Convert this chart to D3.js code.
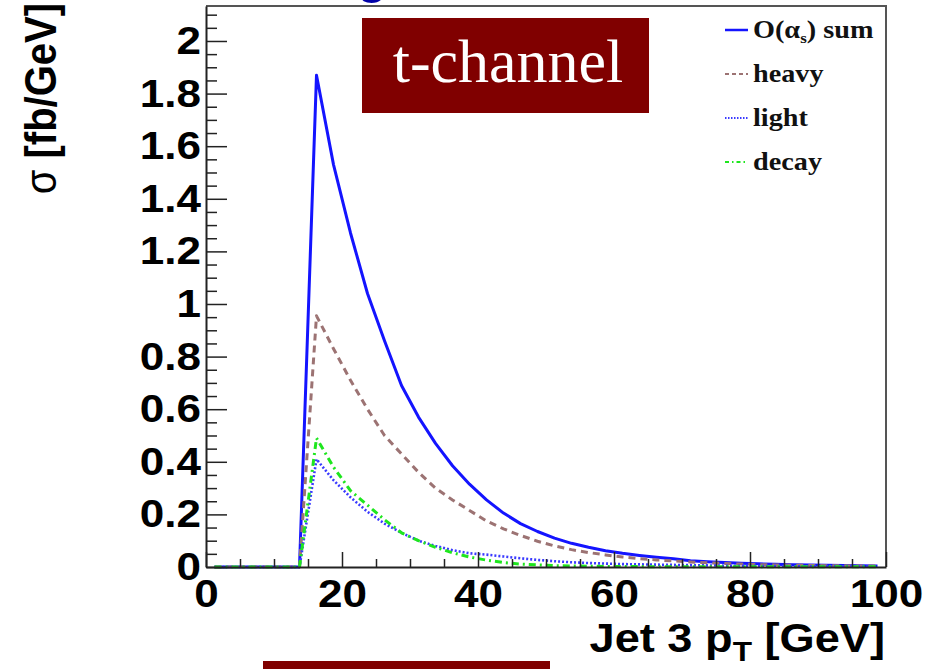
<!DOCTYPE html>
<html>
<head>
<meta charset="utf-8">
<script src="https://cdn.jsdelivr.net/npm/d3@7"></script>
<style>
  body { margin: 0; background: #fff; }
  svg { display: block; }
</style>
</head>
<body>
<div id="vis"></div>
<script>
// bin centres of the Jet 3 pT histogram (GeV)
var ptBins = [1.25, 3.75, 6.25, 8.75, 11.25, 13.75, 16.25, 18.75, 21.25, 23.75,
  26.25, 28.75, 31.25, 33.75, 36.25, 38.75, 41.25, 43.75, 46.25, 48.75,
  51.25, 53.75, 56.25, 58.75, 61.25, 63.75, 66.25, 68.75, 71.25, 73.75,
  76.25, 78.75, 81.25, 83.75, 86.25, 88.75, 91.25, 93.75, 96.25, 98.75];

// sigma [fb/GeV]
var sumValues = [0, 0, 0, 0, 0, 0, 1.87, 1.53, 1.27, 1.04,
  0.86, 0.69, 0.57, 0.47, 0.385, 0.315, 0.255, 0.205, 0.165, 0.135,
  0.11, 0.09, 0.075, 0.062, 0.052, 0.044, 0.037, 0.031, 0.024, 0.020,
  0.017, 0.014, 0.012, 0.010, 0.009, 0.008, 0.007, 0.006, 0.005, 0.004];
var heavyValues = [0, 0, 0, 0, 0, 0, 0.955, 0.83, 0.71, 0.60,
  0.50, 0.43, 0.36, 0.30, 0.255, 0.215, 0.175, 0.145, 0.12, 0.098,
  0.08, 0.066, 0.055, 0.046, 0.038, 0.032, 0.027, 0.023, 0.019, 0.016,
  0.013, 0.011, 0.009, 0.008, 0.007, 0.006, 0.005, 0.0045, 0.004, 0.0035];
var lightValues = [0, 0, 0, 0, 0, 0, 0.41, 0.33, 0.265, 0.21,
  0.165, 0.13, 0.10, 0.08, 0.064, 0.052, 0.047, 0.04, 0.033, 0.027,
  0.022, 0.018, 0.015, 0.013, 0.011, 0.010, 0.009, 0.008, 0.007, 0.006,
  0.005, 0.005, 0.004, 0.004, 0.003, 0.003, 0.003, 0.003, 0.002, 0.002];
var decayValues = [0, 0, 0, 0, 0, 0, 0.49, 0.38, 0.29, 0.235,
  0.18, 0.13, 0.10, 0.075, 0.054, 0.038, 0.026, 0.017, 0.011, 0.008,
  0.005, 0.004, 0.003, 0.002, 0.002, 0.0015, 0.001, 0.001, 0.001, 0.001,
  0.001, 0.001, 0.001, 0.001, 0.001, 0.001, 0.001, 0.001, 0.001, 0.001];

var seriesNames = ["sum", "heavy", "light", "decay"];
var xTicks = [0, 20, 40, 60, 80, 100];
var yTicks = [0, 0.2, 0.4, 0.6, 0.8, 1, 1.2, 1.4, 1.6, 1.8, 2];

var width = 932, height = 669;
var plot = { left: 206, right: 886, top: 6, bottom: 567 };
var stretch = 1.13;   // the original picture is a little wider than tall

var svg = d3.select("#vis").append("svg")
  .attr("width", width)
  .attr("height", height);

var x = d3.scaleLinear().domain([0, 100]).range([plot.left, plot.right]);
var y = d3.scaleLinear().domain([0, 2.133]).range([plot.bottom, plot.top]);

var styles = {
  sum:   { color: "#1414ff", dash: null,        width: 3 },
  heavy: { color: "#9c7373", dash: "7,5",       width: 3 },
  light: { color: "#3a3aff", dash: "2,2",       width: 2.6 },
  decay: { color: "#1ee61e", dash: "7,4,2,4",   width: 3 }
};
var valuesByName = { sum: sumValues, heavy: heavyValues, light: lightValues, decay: decayValues };

// frame (top and right)
svg.append("path")
  .attr("d", "M" + x(0) + "," + y(2.133) + "H" + x(100) + "V" + y(0))
  .attr("fill", "none")
  .attr("stroke", "#555")
  .attr("stroke-width", 2);

// curves
var line = d3.line()
  .x(function (d) { return x(d[0]); })
  .y(function (d) { return y(d[1]); });

var curves = svg.append("g").attr("class", "curves");
seriesNames.forEach(function (name) {
  var pts = ptBins.map(function (b, i) { return [b, valuesByName[name][i]]; });
  var st = styles[name];
  curves.append("path")
    .datum(pts)
    .attr("d", line)
    .attr("fill", "none")
    .attr("stroke", st.color)
    .attr("stroke-width", st.width)
    .attr("stroke-dasharray", st.dash)
    .attr("stroke-linejoin", "round");
});

// minor ticks
var xMinor = d3.range(0, 101, 5).filter(function (v) { return v % 20 != 0; });
var yMinor = d3.range(0, 2.13, 0.05).filter(function (v) { return Math.abs(v * 5 - Math.round(v * 5)) > 1e-6; });

svg.append("g")
  .attr("transform", "translate(0," + plot.bottom + ")")
  .call(d3.axisBottom(x).tickValues(xMinor).tickSize(-8).tickFormat(""))
  .call(function (g) { g.select(".domain").remove(); });

svg.append("g")
  .attr("transform", "translate(" + plot.left + ",0)")
  .call(d3.axisLeft(y).tickValues(yMinor).tickSize(-11).tickFormat(""))
  .call(function (g) { g.select(".domain").remove(); });

// major axes
var xAxis = svg.append("g")
  .attr("class", "axis axis-x")
  .attr("transform", "translate(0," + plot.bottom + ")")
  .call(d3.axisBottom(x).tickValues(xTicks).tickSizeInner(-15).tickSizeOuter(0).tickPadding(12).tickFormat(d3.format("d")));

var yAxis = svg.append("g")
  .attr("class", "axis axis-y")
  .attr("transform", "translate(" + plot.left + ",0)")
  .call(d3.axisLeft(y).tickValues(yTicks).tickSizeInner(-21).tickSizeOuter(0).tickPadding(5).tickFormat(function (d) { return String(+d.toFixed(1)); }));

svg.selectAll(".axis .domain").attr("stroke", "#222").attr("stroke-width", 2);
svg.selectAll(".tick line").attr("stroke", "#222").attr("stroke-width", 1.5);

svg.selectAll(".axis text")
  .attr("font-family", "Liberation Sans, Arial, sans-serif")
  .attr("font-weight", "bold")
  .attr("font-size", 39)
  .attr("fill", "#000");

// widen the tick labels the same way the picture is widened
yAxis.selectAll(".tick text").each(function () {
  var t = d3.select(this);
  var tx = +t.attr("x");
  t.attr("x", 0).attr("transform", "translate(" + tx + ",0) scale(" + stretch + ",1)");
});
xAxis.selectAll(".tick text").each(function () {
  d3.select(this).attr("transform", "scale(" + stretch + ",1)");
});

// axis titles
svg.append("text")
  .attr("transform", "translate(885,652) scale(" + stretch + ",1)")
  .attr("text-anchor", "end")
  .attr("font-family", "Liberation Sans, Arial, sans-serif")
  .attr("font-weight", "bold")
  .attr("font-size", 40)
  .call(function (t) {
    t.append("tspan").text("Jet 3 p");
    t.append("tspan").attr("font-size", 28).attr("dy", 9).text("T");
    t.append("tspan").attr("dy", -9).text(" [GeV]");
  });

svg.append("text")
  .attr("transform", "translate(56,3) scale(" + stretch + ",1) rotate(-90)")
  .attr("text-anchor", "end")
  .attr("font-family", "Liberation Sans, Arial, sans-serif")
  .attr("font-weight", "bold")
  .attr("font-size", 40)
  .call(function (t) {
    t.append("tspan").attr("font-weight", "normal").text("σ");
    t.append("tspan").text(" [fb/GeV]");
  });

// legend
var legendLabels = {
  sum: null,
  heavy: "heavy",
  light: "light",
  decay: "decay"
};
var legendY = d3.scalePoint().domain(seriesNames).range([30, 162]);
var legend = svg.append("g").attr("class", "legend");
seriesNames.forEach(function (name) {
  var st = styles[name];
  var ly = legendY(name);
  legend.append("line")
    .attr("x1", 725).attr("x2", 748)
    .attr("y1", ly).attr("y2", ly)
    .attr("stroke", st.color)
    .attr("stroke-width", name == "sum" ? 2.5 : 2)
    .attr("stroke-dasharray", name == "heavy" ? "4,3" : name == "light" ? "1.5,1.5" : name == "decay" ? "4,3,1.5,3" : null);
  var txt = legend.append("text")
    .attr("transform", "translate(753," + (ly + 8) + ") scale(" + stretch + ",1)")
    .attr("font-family", "Liberation Serif, Times New Roman, serif")
    .attr("font-weight", "bold")
    .attr("font-size", 25)
    .attr("fill", "#111");
  if (name == "sum") {
    txt.append("tspan").text("O(α");
    txt.append("tspan").attr("font-size", 15).attr("dy", 5).text("s");
    txt.append("tspan").attr("dy", -5).text(") sum");
  } else {
    txt.text(legendLabels[name]);
  }
});

// slide decorations: label box, cut-off title, bottom bar
svg.append("rect")
  .attr("x", 362).attr("y", 18)
  .attr("width", 287).attr("height", 95)
  .attr("fill", "#800000");
svg.append("text")
  .attr("x", 508).attr("y", 82)
  .attr("text-anchor", "middle")
  .attr("font-family", "Liberation Serif, Times New Roman, serif")
  .attr("font-size", 62)
  .attr("fill", "#fff")
  .text("t-channel");

svg.append("text")
  .attr("x", 357).attr("y", -7)
  .attr("font-family", "Liberation Sans, Arial, sans-serif")
  .attr("font-weight", "bold")
  .attr("font-size", 50)
  .attr("fill", "#0000a8")
  .text("g");

svg.append("rect")
  .attr("x", 263).attr("y", 661)
  .attr("width", 287).attr("height", 8)
  .attr("fill", "#800000");
</script>
</body>
</html>
